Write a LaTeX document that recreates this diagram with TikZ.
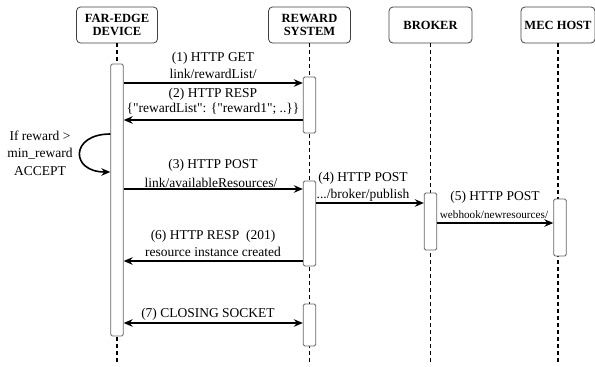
\documentclass[tikz,border=0pt]{standalone}
\usepackage{fontspec}
\setmainfont{Liberation Serif}[Ligatures=TeXOff]
\usetikzlibrary{arrows.meta}
\begin{document}
\begin{tikzpicture}[x=1pt,y=-1pt,
  actor/.style={draw=black!75, rounded corners=4pt, line width=0.8pt, minimum height=36pt,
    align=center, font=\fontsize{12.5}{13.5}\selectfont\bfseries, inner sep=0pt},
  bar/.style={draw=black!60, fill=white, rounded corners=1.5pt, line width=0.8pt,
    minimum width=12.5pt, inner sep=0pt},
  life/.style={dash pattern=on 4pt off 3pt, line width=1.1pt},
  msg/.style={line width=1.6pt, -{Stealth[length=9pt,width=7.5pt]}},
  dmsg/.style={line width=1.6pt, {Stealth[length=9pt,width=7.5pt]}-{Stealth[length=9pt,width=7.5pt]}},
  lbl/.style={font=\fontsize{13.5}{17.5}\selectfont, inner sep=0pt, align=center},
  slbl/.style={font=\fontsize{11.2}{13}\selectfont, inner sep=0pt},
]
\useasboundingbox (0,0) rectangle (595,367);

% participants
\node[actor, minimum width=81pt] (fed) at (117,25) {FAR-EDGE\\DEVICE};
\node[actor, minimum width=82pt] (rs)  at (309.5,25) {REWARD\\SYSTEM};
\node[actor, minimum width=83pt] (br)  at (430.5,25) {BROKER};
\node[actor, minimum width=74pt] (mec) at (558,25) {MEC HOST};

% lifelines
\coordinate (fedend) at (117,362);
\coordinate (rsend)  at (309.5,362);
\coordinate (brend)  at (430.5,362);
\coordinate (mecend) at (558,362);
\draw[life] (fed.south) -- (fedend);
\draw[life] (rs.south) -- (rsend);
\draw[life] (br.south) -- (brend);
\draw[life] (mec.south) -- (mecend);

% activation bars
\node[bar, minimum height=272pt] (fdbar)  at (117,200) {};
\node[bar, minimum height=56pt]  (rs1)    at (309.5,105) {};
\node[bar, minimum height=85pt]  (rs2)    at (309.5,223.5) {};
\node[bar, minimum height=42pt]  (rs3)    at (309.5,325) {};
\node[bar, minimum height=57pt]  (brbar)  at (430.5,221.5) {};
\node[bar, minimum height=57pt]  (mecbar) at (560,227.5) {};

% (1) request
\draw[msg] (fdbar.east |- 0,83) -- (rs1.west |- 0,83);
\node[lbl] (t1a) at (213,58) {(1) HTTP GET};
\node[lbl] (t1b) at (213,74) {link/rewardList/};

% (2) response
\draw[msg] (rs1.west |- 0,120) -- (fdbar.east |- 0,120);
\node[lbl] (t2a) at (213,94) {(2) HTTP RESP};
\node[lbl] (t2b) at (213,109) {\{"rewardList": \{"reward1"; ..\}\}};

% local decision
\draw[msg] (fdbar.west |- 0,134) .. controls (70,134) and (70,172) .. (fdbar.west |- 0,172);
\node[lbl] (cond) at (40,153) {If reward >\\min\_reward\\ACCEPT};

% (3) post resources
\draw[msg] (fdbar.east |- 0,189) -- (rs2.west |- 0,189);
\node[lbl] (t3a) at (213,165) {(3) HTTP POST};
\node[lbl] (t3b) at (211,183) {link/availableResources/};

% (4) publish to broker
\draw[msg] (rs2.east |- 0,203) -- (brbar.west |- 0,203);
\node[lbl] (t4a) at (363,178) {(4) HTTP POST};
\node[lbl] (t4b) at (363,195) {.../broker/publish};

% (5) webhook to MEC host
\draw[msg] (brbar.east |- 0,223) -- (mecbar.west |- 0,223);
\node[lbl] (t5a) at (495,197) {(5) HTTP POST};
\node[slbl] (t5b) at (494,215) {webhook/newresources/};

% (6) created
\draw[msg] (rs2.west |- 0,261) -- (fdbar.east |- 0,261);
\node[lbl] (t6a) at (213,236) {(6) HTTP RESP~~(201)};
\node[lbl] (t6b) at (213,252) {resource instance created};

% (7) closing
\draw[dmsg] (fdbar.east |- 0,323) -- (rs3.west |- 0,323);
\node[lbl] (t7) at (208,314) {(7) CLOSING SOCKET};
\end{tikzpicture}
\end{document}
